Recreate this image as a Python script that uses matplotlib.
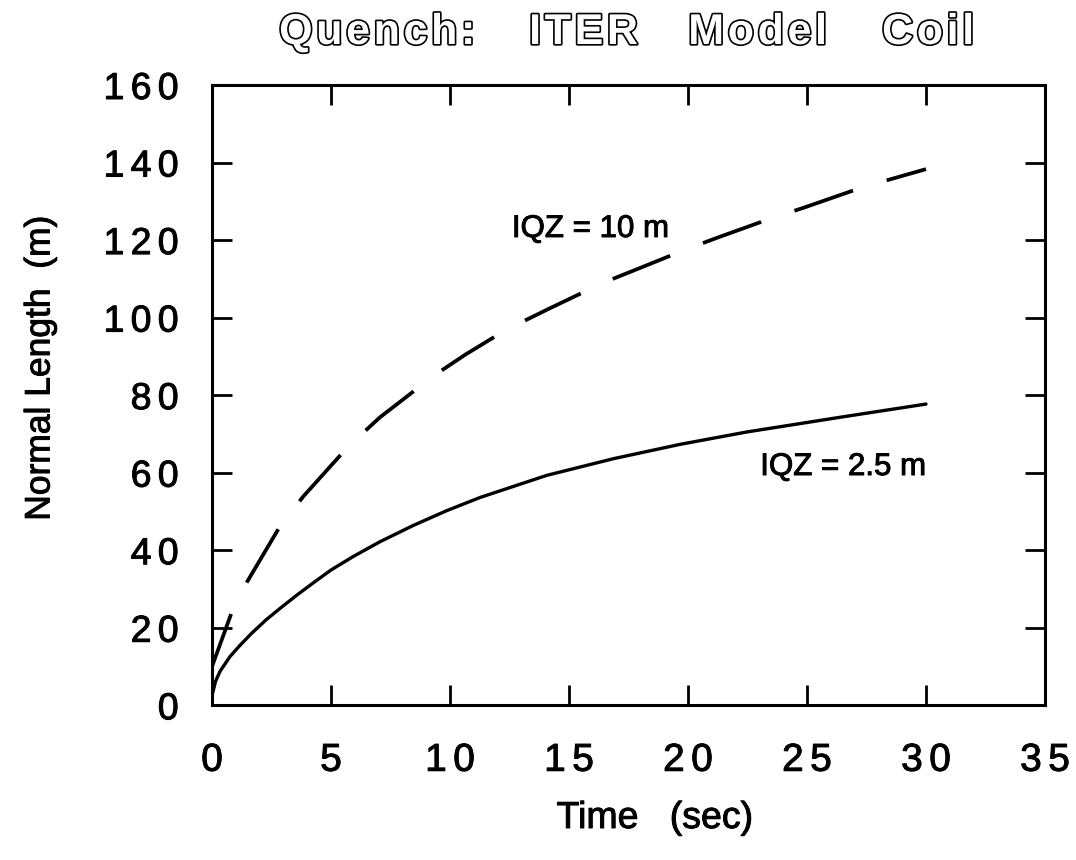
import matplotlib
matplotlib.use("Agg")
import matplotlib.pyplot as plt
import matplotlib.patheffects as pe

plt.rcParams["font.family"] = ["Liberation Sans", "DejaVu Sans"]
plt.rcParams["lines.scale_dashes"] = False

# Normal zone length (m) versus time (s) for two initial quench zones
time_iqz10 = [0.0, 0.83, 1.46, 2.86, 3.84, 5.73, 7.06, 9.34, 10.63, 12.1,
              12.87, 14.16, 16.44, 17.7, 20.0, 21.27, 23.58, 24.84, 27.09,
              28.4, 30.0]
length_iqz10 = [10.0, 24.0, 31.7, 46.2, 53.9, 66.8, 74.3, 85.1, 90.4, 95.9,
                98.4, 102.3, 109.0, 112.1, 117.8, 120.7, 125.8, 128.3, 133.1,
                135.5, 138.3]

time_iqz25 = [0.0, 0.15, 0.34, 0.76, 1.18, 1.67, 2.30, 2.86, 3.56, 4.26, 5.0,
              5.94, 7.06, 8.46, 9.86, 11.26, 14.06, 16.86, 19.66, 22.47, 26.5,
              30.0]
length_iqz25 = [2.5, 6.2, 8.8, 12.6, 15.5, 18.6, 22.2, 25.0, 28.4, 31.6, 34.9,
                38.4, 42.2, 46.4, 50.2, 53.6, 59.3, 63.6, 67.3, 70.5, 74.4,
                77.7]

x_ticks = [0, 5, 10, 15, 20, 25, 30, 35]
y_ticks = [0, 20, 40, 60, 80, 100, 120, 140, 160]

title_words = ["Quench:", "ITER", "Model", "Coil"]
label_iqz10 = "IQZ = 10 m"
label_iqz25 = "IQZ = 2.5 m"

TICK_SP = "\u2006"   # six-per-em space between tick digits
TITLE_SP = "\u200a"  # hair space between title letters


def spaced(s, sep=TICK_SP):
    return sep.join(s)


ink = [pe.withStroke(linewidth=0.7, foreground="black")]

W, H = 1076, 860
fig = plt.figure(figsize=(W / 100, H / 100), dpi=100)
fig.patch.set_facecolor("white")
ax = fig.add_axes([212 / W, 1 - 705.3 / H, (1045 - 212) / W, (705.3 - 85) / H])

ax.plot(time_iqz25, length_iqz25, color="black", lw=2.4,
        solid_capstyle="round", solid_joinstyle="round")
ax.plot(time_iqz10, length_iqz10, color="black", lw=2.7,
        linestyle=(4.4, (44.6, 25.3)), dash_capstyle="butt")

ax.set_xlim(0, 35)
ax.set_ylim(0, 160)
ax.set_xticks(x_ticks)
ax.set_yticks(y_ticks)
ax.set_xticklabels([spaced(str(v)) for v in x_ticks], fontsize=28)
ax.set_yticklabels([spaced(str(v)) for v in y_ticks], fontsize=27)
for lab in ax.get_xticklabels() + ax.get_yticklabels():
    lab.set_path_effects(ink)
ax.tick_params(axis="both", direction="in", length=14.4, width=2.0,
               top=True, right=True, colors="black")
ax.tick_params(axis="x", pad=27)
ax.tick_params(axis="y", pad=24)
for sp in ax.spines.values():
    sp.set_linewidth(2.2)

ax.text(12.6, 120.8, label_iqz10, fontsize=22.5, ha="left", va="baseline",
        path_effects=ink)
ax.text(30.0, 59.4, label_iqz25, fontsize=22.5, ha="right", va="baseline",
        path_effects=ink)

fig.text(655 / W, 1 - 818 / H, "Time   (sec)", fontsize=27,
         ha="center", va="center", path_effects=ink)
fig.text(40 / W, 1 - 368 / H, "Normal Length  (m)", fontsize=25.5,
         rotation=90, ha="center", va="center", path_effects=ink)

# Hollow (outlined) title lettering, word by word
word_centers = [377, 583.5, 757.5, 928]
for word, cx in zip(title_words, word_centers):
    fig.text(cx / W, 1 - 33 / H, spaced(word, TITLE_SP), fontsize=31,
             fontweight="bold", color="white", ha="center", va="center",
             path_effects=[pe.withStroke(linewidth=2.4, foreground="black")])

fig.savefig("out.png", dpi=100, facecolor="white")
